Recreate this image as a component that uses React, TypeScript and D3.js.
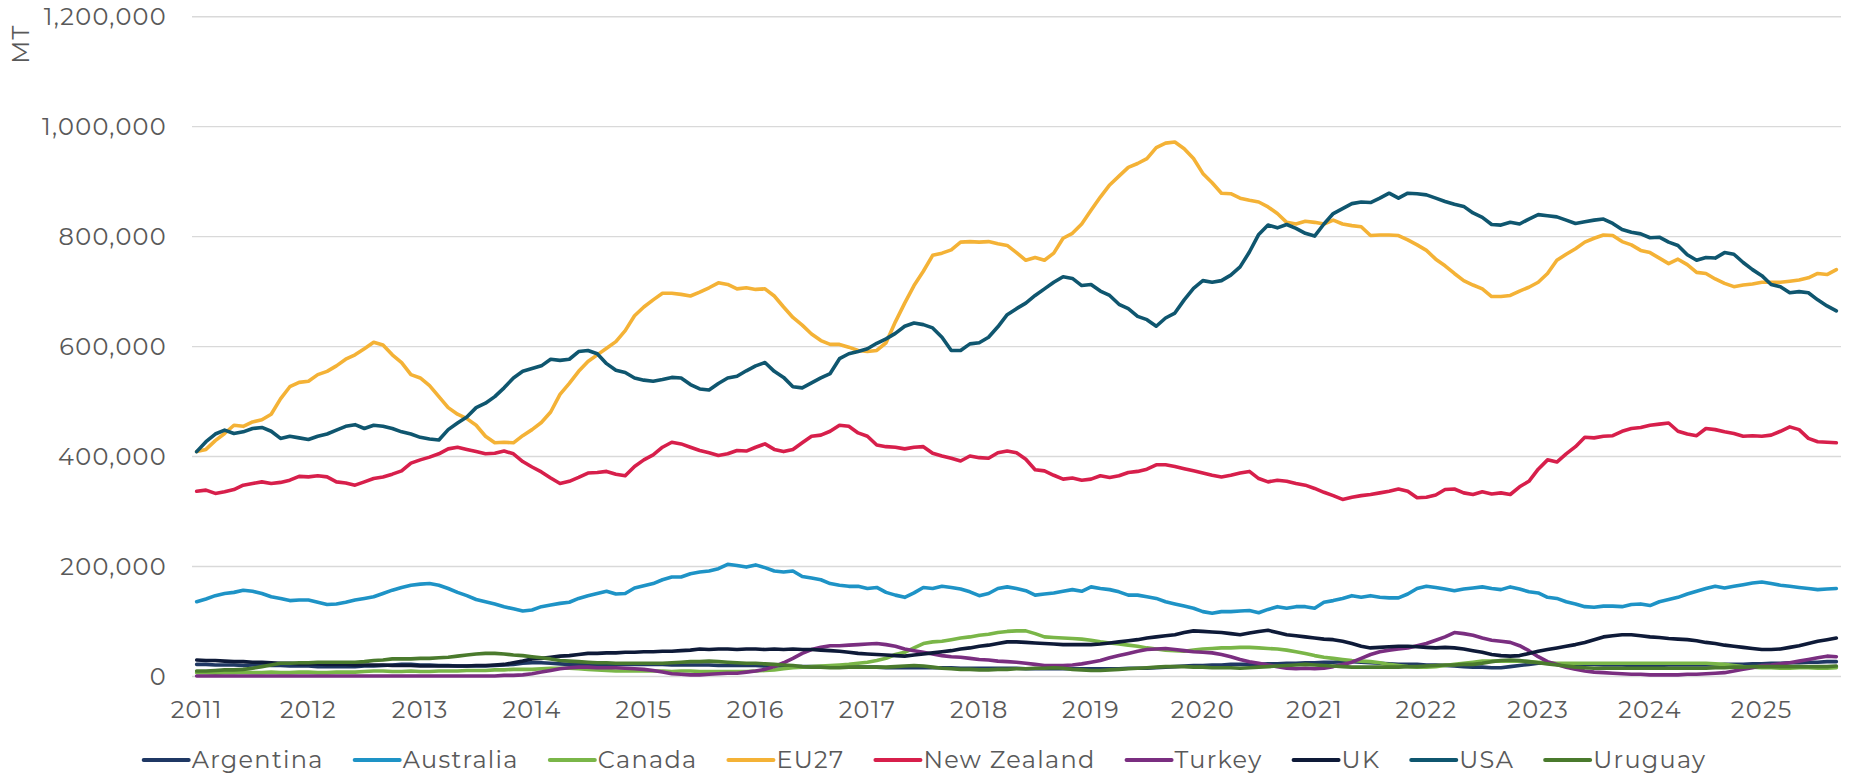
import React, { useEffect, useRef } from "react";
import * as d3 from "d3";

// Monthly, Jan 2011 – Sep 2025 (177 months); values in thousand MT
const yearLabels = ["2011","2012","2013","2014","2015","2016","2017","2018","2019","2020","2021","2022","2023","2024","2025"];
const yTickValues = [0, 200000, 400000, 600000, 800000, 1000000, 1200000];
const seriesNames = ["Argentina","Australia","Canada","EU27","New Zealand","Turkey","UK","USA","Uruguay"];
const seriesColors = ["#1F3864","#1E93C6","#7AB648","#F4B236","#D71F4B","#7A2E80","#0E1A38","#0F566F","#4A7A2D"];

const argentina = [
  22,22,21,21,21,20,21,21,20,20,19,19,
  19,18,18,18,18,18,19,19,20,21,22,22,
  21,21,20,20,19,19,19,19,20,21,22,24,
  25,25,24,23,22,22,22,22,22,22,22,22,
  22,22,22,21,21,21,21,21,20,20,20,20,
  20,19,19,19,18,18,18,18,17,17,17,17,
  17,17,16,16,16,16,16,16,16,16,15,15,
  15,15,15,15,15,14,14,14,14,14,14,14,
  14,14,14,14,15,15,15,16,17,18,19,20,
  20,21,21,22,22,22,22,23,23,24,24,25,
  25,26,26,27,27,26,25,24,23,22,22,22,
  21,21,20,19,18,17,17,16,16,18,20,22,
  24,24,23,23,22,22,22,21,21,21,20,20,
  20,20,21,21,21,21,21,21,22,22,22,23,
  23,24,24,25,25,26,26,27,27,
];
const australia = [
  136,141,147,151,153,157,155,151,145,142,138,139,
  139,135,131,132,135,139,142,145,151,157,162,166,
  168,169,166,160,153,147,140,136,132,127,123,119,
  121,127,130,133,135,142,147,151,155,150,151,161,
  165,169,176,181,181,187,190,192,196,204,202,199,
  203,198,192,190,192,182,179,176,169,166,164,164,
  160,162,153,148,144,152,162,160,164,162,159,154,
  147,151,160,163,160,156,148,150,152,155,158,155,
  163,160,158,154,148,148,145,142,136,132,128,124,
  118,115,118,118,119,120,116,122,127,124,127,127,
  124,135,138,142,147,144,147,144,143,143,150,160,
  164,162,159,156,159,161,163,160,158,163,159,154,
  152,144,142,136,132,127,126,128,128,127,131,132,
  129,136,140,144,150,155,160,164,161,164,167,170,
  172,169,166,164,162,160,158,159,160,
];
const canada = [
  7,7,6,7,7,8,7,7,8,7,7,8,
  8,7,7,8,8,8,9,10,10,9,9,10,
  9,9,10,10,10,11,11,11,12,12,13,13,
  13,14,15,15,15,14,13,12,11,10,10,10,
  10,10,10,9,10,10,9,9,9,9,9,9,
  10,11,12,14,16,17,18,19,20,21,22,24,
  26,29,33,40,44,52,60,63,64,67,70,72,
  75,77,80,82,83,83,78,72,71,70,69,68,
  66,63,61,59,57,55,52,50,48,47,46,48,
  50,51,52,52,53,53,52,51,50,48,45,42,
  38,35,33,31,29,28,27,25,22,20,18,17,
  17,18,20,22,24,26,28,28,28,28,28,27,
  26,25,24,24,24,24,24,24,24,24,24,24,
  24,24,24,24,24,24,24,23,22,20,18,17,
  16,16,15,15,16,16,15,15,16,
];
const eu27 = [
  409,413,429,442,457,455,463,467,477,505,527,535,
  537,549,555,565,577,585,596,608,603,585,571,549,
  543,529,509,489,477,469,457,437,425,426,425,438,
  449,462,481,513,533,555,573,585,597,609,629,656,
  672,685,697,697,695,692,699,707,716,713,705,707,
  704,705,692,672,653,639,623,611,604,604,599,593,
  591,593,607,645,679,711,737,766,770,776,790,791,
  790,791,787,784,771,757,762,757,770,797,806,823,
  848,872,894,910,926,933,942,962,970,972,960,942,
  915,898,879,878,870,866,863,854,842,826,823,828,
  826,823,830,823,820,818,802,803,803,802,794,785,
  775,759,747,733,720,712,705,691,691,693,701,708,
  717,733,757,768,778,790,797,803,802,791,785,775,
  771,761,751,759,749,735,733,723,715,709,712,714,
  717,717,717,719,721,725,733,731,740,
];
const newZealand = [
  337,339,333,336,340,348,351,354,351,353,357,364,
  363,365,363,354,352,348,354,360,363,368,374,388,
  394,399,405,414,417,413,409,405,406,410,405,391,
  381,372,361,351,355,362,370,371,373,368,365,382,
  394,403,417,426,423,417,411,407,402,405,411,410,
  417,423,413,409,413,425,437,439,446,457,455,443,
  437,421,418,417,414,417,418,406,401,397,392,401,
  398,397,407,410,407,395,376,374,366,359,361,357,
  359,365,362,365,371,373,377,385,385,382,378,374,
  370,366,363,366,370,373,360,354,357,355,351,348,
  342,335,329,322,326,329,331,334,337,341,337,325,
  326,330,340,341,334,331,336,332,334,331,345,355,
  377,394,390,405,418,435,434,437,438,446,451,453,
  457,459,461,446,441,438,451,449,445,442,437,438,
  437,439,446,454,449,433,427,426,425,
];
const turkey = [
  1,1,1,1,1,1,1,1,1,1,1,1,
  1,1,1,1,1,1,1,1,1,1,1,1,
  1,1,1,1,1,1,1,1,1,2,2,3,
  5,8,11,14,16,17,17,16,16,16,15,14,
  13,11,8,5,4,3,3,4,5,6,6,8,
  10,13,18,25,33,42,49,53,56,56,57,58,
  59,60,58,55,50,47,44,41,38,36,35,33,
  31,30,28,27,26,24,22,20,20,20,21,23,
  26,29,34,38,42,46,49,50,51,49,47,45,
  44,43,40,36,31,27,24,21,18,15,14,15,
  14,15,18,22,26,33,40,45,48,50,52,56,
  60,66,72,80,78,75,70,66,64,62,56,47,
  36,27,22,17,13,10,8,7,6,5,4,4,
  3,3,3,3,4,4,5,6,7,10,13,16,
  20,21,23,25,28,31,34,37,36,
];
const uk = [
  30,29,29,28,27,27,26,26,25,24,24,23,
  23,23,22,22,22,21,21,21,21,20,20,20,
  19,19,19,19,19,19,20,20,21,22,25,28,
  32,33,35,37,38,40,42,42,43,43,44,44,
  45,45,46,46,47,48,50,49,50,50,49,50,
  50,49,50,49,50,49,49,48,47,46,44,42,
  41,40,39,38,37,39,41,43,45,47,50,52,
  55,57,60,63,63,62,61,60,59,58,58,58,
  58,59,61,63,65,67,70,72,74,76,80,83,
  82,81,80,78,76,79,82,84,80,76,74,72,
  70,68,67,64,60,55,52,53,54,55,55,54,
  53,52,53,52,50,47,44,40,38,37,38,42,
  46,49,52,55,58,62,67,72,74,76,76,74,
  72,71,69,68,67,65,62,60,57,55,53,51,
  49,49,50,53,56,60,64,67,70,
];
const usa = [
  409,427,441,448,442,445,451,453,446,433,437,434,
  431,437,441,448,455,458,451,457,455,451,445,441,
  435,432,430,449,461,472,489,497,509,525,543,555,
  560,565,577,575,577,591,593,587,569,557,553,543,
  539,537,540,544,543,531,523,521,533,543,546,556,
  565,571,555,544,527,525,534,543,551,578,587,591,
  596,606,614,624,637,643,640,634,617,593,593,605,
  607,617,636,658,669,679,693,705,717,727,724,711,
  713,701,693,677,669,655,649,637,652,661,685,706,
  720,717,720,730,745,772,804,821,816,822,815,806,
  801,823,842,851,860,863,862,870,879,870,879,878,
  876,870,864,859,855,843,835,822,821,826,823,832,
  840,838,836,830,824,827,830,832,824,813,808,805,
  798,799,790,784,767,757,762,761,771,768,753,740,
  729,713,709,698,700,698,685,674,665,
];
const uruguay = [
  10,10,11,12,12,13,15,18,21,24,24,25,
  25,26,26,26,26,26,27,29,30,32,32,32,
  33,33,34,35,37,39,41,42,42,41,39,38,
  36,34,32,29,28,27,26,25,25,24,24,24,
  24,24,24,25,26,27,27,28,27,26,25,24,
  24,23,22,21,20,18,17,17,16,16,17,17,
  17,17,17,18,19,20,19,17,15,14,13,13,
  12,12,13,13,14,14,15,15,16,15,13,12,
  11,11,12,13,14,15,16,17,18,18,18,17,
  17,16,16,16,15,16,17,18,19,20,21,22,
  21,20,19,18,17,17,17,17,17,17,18,18,
  19,20,21,21,22,22,24,27,29,30,29,27,
  25,23,21,19,17,16,15,15,15,15,15,15,
  15,15,15,15,15,15,15,16,16,17,17,18,
  18,18,18,18,18,18,18,18,19,
];

const seriesValues = [argentina, australia, canada, eu27, newZealand, turkey, uk, usa, uruguay];

const W = 1851;
const H = 778;
const FONT = "Montserrat, 'Open Sans', 'DejaVu Sans', sans-serif";
const TEXT = "#595959";
const LS = 1.3;

export default function App() {
  const ref = useRef<SVGSVGElement>(null);

  useEffect(() => {
    document.body.style.margin = "0";
    const svg = d3.select(ref.current);
    svg.selectAll("*").remove();

    const n = eu27.length;
    const idx = d3.range(n);
    const x = d3.scaleBand<number>().domain(idx).range([192, 1841]).padding(0);
    const cx = (i: number) => (x(i) as number) + x.bandwidth() / 2;
    const y = d3.scaleLinear().domain([0, 1200000]).range([676.5, 16.7]);

    // gridlines
    svg.append("g")
      .selectAll("line")
      .data(yTickValues)
      .join("line")
      .attr("x1", 192)
      .attr("x2", 1841)
      .attr("y1", (d) => y(d))
      .attr("y2", (d) => y(d))
      .attr("stroke", "#D9D9D9")
      .attr("stroke-width", 1.4);

    // y tick labels
    const fmt = d3.format(",");
    svg.append("g")
      .selectAll("text")
      .data(yTickValues)
      .join("text")
      .attr("x", 167)
      .attr("y", (d) => y(d))
      .attr("dy", "0.35em")
      .attr("text-anchor", "end")
      .attr("font-family", FONT)
      .attr("font-size", 24)
      .attr("letter-spacing", LS)
      .attr("fill", TEXT)
      .text((d) => fmt(d));

    // y axis title
    svg.append("text")
      .attr("transform", "translate(29,44) rotate(-90)")
      .attr("text-anchor", "middle")
      .attr("font-family", FONT)
      .attr("font-size", 24)
      .attr("letter-spacing", LS)
      .attr("fill", TEXT)
      .text("MT");

    // x labels (January of each year)
    svg.append("g")
      .selectAll("text")
      .data(yearLabels)
      .join("text")
      .attr("x", (_d, i) => cx(i * 12))
      .attr("y", 718)
      .attr("text-anchor", "middle")
      .attr("font-family", FONT)
      .attr("font-size", 24)
      .attr("letter-spacing", LS)
      .attr("fill", TEXT)
      .text((d) => d);

    // lines
    const line = d3.line<number>()
      .x((_d, i) => cx(i))
      .y((d) => y(d * 1000));

    svg.append("g")
      .selectAll("path")
      .data(seriesValues)
      .join("path")
      .attr("d", (d) => line(d))
      .attr("fill", "none")
      .attr("stroke", (_d, i) => seriesColors[i])
      .attr("stroke-width", 3.6)
      .attr("stroke-linejoin", "round")
      .attr("stroke-linecap", "round");

    // legend
    const lg = svg.append("g");
    const items = lg.selectAll("g")
      .data(seriesNames)
      .join("g");
    items.append("line")
      .attr("x1", 0).attr("x2", 45)
      .attr("y1", 0).attr("y2", 0)
      .attr("stroke", (_d, i) => seriesColors[i])
      .attr("stroke-width", 4)
      .attr("stroke-linecap", "round");
    items.append("text")
      .attr("x", 48)
      .attr("y", 0)
      .attr("dy", "0.35em")
      .attr("font-family", FONT)
      .attr("font-size", 24)
      .attr("letter-spacing", LS)
      .attr("fill", TEXT)
      .text((d) => d);
    const widths: number[] = [];
    items.each(function () {
      const t = d3.select(this).select("text").node() as SVGTextElement;
      widths.push(48 + t.getComputedTextLength());
    });
    const gap = 31;
    const total = d3.sum(widths) + gap * (widths.length - 1);
    let cur = 925 - total / 2;
    items.attr("transform", (_d, i) => {
      const t = `translate(${cur},760)`;
      cur += widths[i] + gap;
      return t;
    });
  }, []);

  return <svg ref={ref} width={W} height={H} style={{ display: "block", background: "#fff" }} />;
}
